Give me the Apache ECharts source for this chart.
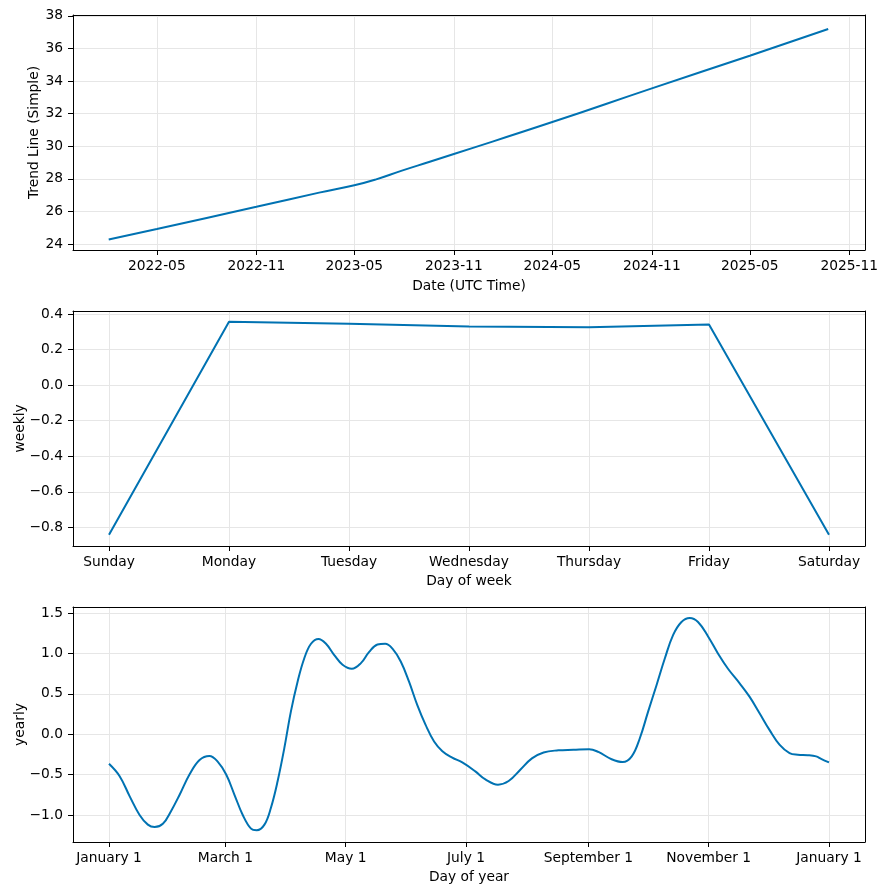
<!DOCTYPE html>
<html>
<head>
<meta charset="utf-8">
<script src="https://cdn.jsdelivr.net/npm/echarts@6/dist/echarts.min.js"></script>
<style>
  html, body { margin: 0; padding: 0; background: #fff; }
  #chart { width: 888px; height: 895px; }
</style>
</head>
<body>
<div id="chart"></div>
<script>
// trend component
var trendDates = ['2022-02-01', '2022-05-01', '2022-11-01', '2023-02-25', '2023-05-01', '2023-06-09',
                  '2023-07-28', '2023-09-16', '2023-11-01', '2024-05-01', '2024-11-01', '2025-05-01',
                  '2025-09-23'];
var trendValues = [24.28, 24.92, 26.28, 27.15, 27.60, 27.95, 28.50, 29.03, 29.52, 31.48, 33.55, 35.55, 37.19];
// uncertainty band at the end of the trend
var bandDates = ['2024-12-01', '2025-03-01', '2025-05-01', '2025-07-01', '2025-09-23'];
var bandLower = [33.88, 34.85, 35.50, 36.14, 37.01];
var bandUpper = [33.88, 34.89, 35.60, 36.32, 37.37];
var trendTickDates = ['2022-05-01', '2022-11-01', '2023-05-01', '2023-11-01', '2024-05-01',
                      '2024-11-01', '2025-05-01', '2025-11-01'];
var trendTickValues = [24, 26, 28, 30, 32, 34, 36, 38];

// weekly component
var weekDays = ['Sunday', 'Monday', 'Tuesday', 'Wednesday', 'Thursday', 'Friday', 'Saturday'];
var weeklyValues = [-0.842, 0.356, 0.345, 0.330, 0.326, 0.341, -0.842];
var weeklyTickValues = [-0.8, -0.6, -0.4, -0.2, 0, 0.2, 0.4];

// yearly component (day of year, 0 = January 1)
var yearDays = [0, 5.4, 10.5, 15.5, 19.7, 23.1, 27.3, 31.5, 35.8, 40.8, 45.9, 50.9, 55.1, 59.4,
                63.6, 67.8, 72, 74.9, 78.8, 82.1, 85.5, 88.9, 92.2, 95.6, 99, 102.4, 106.2, 110,
                114.2, 118.4, 123.1, 127.7, 131.9, 136.1, 140, 143.7, 147.9, 152.1, 156.3, 160.5,
                164.8, 169, 174, 179.1, 185.7, 190.8, 197.2, 202.6, 208.5, 214.4, 220.3, 227.8,
                235.4, 243.4, 248.1, 254.8, 260.4, 265, 269.1, 273.3, 277.6, 281.8, 286, 290.2,
                294.4, 298.6, 303.7, 308.7, 313.8, 319.7, 324.7, 329.8, 334.9, 339.9, 345, 349.2,
                354.2, 358.5, 361, 365];
var yearlyValues = [-0.366, -0.52, -0.77, -1.00, -1.12, -1.15, -1.11, -0.95, -0.75, -0.50, -0.32,
                    -0.27, -0.34, -0.50, -0.75, -1.00, -1.17, -1.19, -1.12, -0.91, -0.58, -0.17,
                    0.28, 0.65, 0.94, 1.12, 1.18, 1.12, 0.98, 0.86, 0.81, 0.88, 1.02, 1.11, 1.12,
                    1.06, 0.90, 0.65, 0.36, 0.115, -0.09, -0.21, -0.29, -0.35, -0.46, -0.56, -0.625,
                    -0.58, -0.44, -0.30, -0.226, -0.20, -0.193, -0.185, -0.22, -0.31, -0.345, -0.275,
                    -0.05, 0.28, 0.61, 0.94, 1.23, 1.39, 1.44, 1.39, 1.21, 1.00, 0.81, 0.63, 0.465,
                    0.26, 0.05, -0.13, -0.235, -0.255, -0.26, -0.275, -0.305, -0.35];
var yearTickDays = [0, 59, 120, 181, 243, 304, 365];
var yearTickNames = ['January 1', 'March 1', 'May 1', 'July 1', 'September 1', 'November 1', 'January 1'];
var yearlyTickValues = [-1, -0.5, 0, 0.5, 1, 1.5];

var LINE = '#0072B2';
var FONT = 'DejaVu Sans';
var FS = 13.8;

function toTime(s) {
    return Date.parse(s + 'T00:00:00Z');
}
function minus(s) {
    return s.replace('-', '\u2212');
}
function pad2(n) {
    return n < 10 ? '0' + n : '' + n;
}

function makeAxis(opt) {
    return {
        type: 'value',
        gridIndex: opt.grid,
        min: opt.min,
        max: opt.max,
        name: opt.name,
        nameLocation: 'middle',
        nameGap: opt.nameGap,
        nameMoveOverlap: false,
        nameTextStyle: {color: '#000', fontSize: FS, fontFamily: FONT},
        axisLine: {show: true, onZero: false, lineStyle: {color: '#000', width: 1}},
        axisTick: {show: true, inside: false, length: 5, customValues: opt.ticks, lineStyle: {color: '#000', width: 1}},
        axisLabel: {
            customValues: opt.ticks,
            formatter: opt.formatter,
            color: '#000',
            fontSize: FS,
            fontFamily: FONT,
            margin: opt.margin
        },
        splitLine: {show: true, lineStyle: {color: '#e6e6e6', width: 1}}
    };
}

// top / right frame lines of each panel
function frameAxis(grid, pos) {
    return {
        type: 'value', gridIndex: grid, position: pos, min: 0, max: 1,
        axisLine: {show: true, onZero: false, lineStyle: {color: '#000', width: 1}},
        axisTick: {show: false},
        axisLabel: {show: false},
        splitLine: {show: false}
    };
}

var trendData = trendDates.map(function (d, i) { return [toTime(d), trendValues[i]]; });
var bandLowData = bandDates.map(function (d, i) { return [toTime(d), bandLower[i]]; });
var bandWidthData = bandDates.map(function (d, i) { return [toTime(d), bandUpper[i] - bandLower[i]]; });
var weeklyData = weeklyValues.map(function (v, i) { return [i, v]; });
var yearlyData = yearDays.map(function (d, i) { return [d, yearlyValues[i]]; });

var chart = echarts.init(document.getElementById('chart'));
chart.setOption({
    animation: false,
    backgroundColor: '#fff',
    grid: [
        {left: 73, right: 23, top: 15, height: 235, containLabel: false, outerBoundsMode: 'none'},
        {left: 73, right: 23, top: 311, height: 235, containLabel: false, outerBoundsMode: 'none'},
        {left: 73, right: 23, top: 607, height: 235, containLabel: false, outerBoundsMode: 'none'}
    ],
    xAxis: [
        makeAxis({
            grid: 0, min: toTime('2021-11-27'), max: toTime('2025-11-30'),
            name: 'Date (UTC Time)', nameGap: 29, margin: 9,
            ticks: trendTickDates.map(toTime),
            formatter: function (v) {
                var d = new Date(v);
                return d.getUTCFullYear() + '-' + pad2(d.getUTCMonth() + 1);
            }
        }),
        makeAxis({
            grid: 1, min: -0.3, max: 6.3,
            name: 'Day of week', nameGap: 28, margin: 9,
            ticks: [0, 1, 2, 3, 4, 5, 6],
            formatter: function (v) { return weekDays[Math.round(v)]; }
        }),
        makeAxis({
            grid: 2, min: -18.25, max: 383.25,
            name: 'Day of year', nameGap: 28, margin: 9,
            ticks: yearTickDays,
            formatter: function (v) { return yearTickNames[yearTickDays.indexOf(v)]; }
        }),
        frameAxis(0, 'top'),
        frameAxis(1, 'top'),
        frameAxis(2, 'top')
    ],
    yAxis: [
        makeAxis({
            grid: 0, min: 23.63, max: 38.05,
            name: 'Trend Line (Simple)', nameGap: 32, margin: 10,
            ticks: trendTickValues,
            formatter: function (v) { return String(Math.round(v)); }
        }),
        makeAxis({
            grid: 1, min: -0.905, max: 0.417,
            name: 'weekly', nameGap: 46, margin: 10,
            ticks: weeklyTickValues,
            formatter: function (v) { return minus(v.toFixed(1)); }
        }),
        makeAxis({
            grid: 2, min: -1.335, max: 1.575,
            name: 'yearly', nameGap: 46, margin: 10,
            ticks: yearlyTickValues,
            formatter: function (v) { return minus(v.toFixed(1)); }
        }),
        frameAxis(0, 'right'),
        frameAxis(1, 'right'),
        frameAxis(2, 'right')
    ],
    series: [
        {
            name: 'trend', type: 'line', xAxisIndex: 0, yAxisIndex: 0,
            data: trendData, showSymbol: false, smooth: 0.5,
            lineStyle: {color: LINE, width: 2}
        },
        {
            name: 'band_low', type: 'line', xAxisIndex: 0, yAxisIndex: 0, stack: 'band',
            data: bandLowData, showSymbol: false,
            lineStyle: {opacity: 0}
        },
        {
            name: 'band', type: 'line', xAxisIndex: 0, yAxisIndex: 0, stack: 'band',
            data: bandWidthData, showSymbol: false,
            lineStyle: {opacity: 0},
            areaStyle: {color: LINE, opacity: 0.2}
        },
        {
            name: 'weekly', type: 'line', xAxisIndex: 1, yAxisIndex: 1,
            data: weeklyData, showSymbol: false,
            lineStyle: {color: LINE, width: 2}
        },
        {
            name: 'yearly', type: 'line', xAxisIndex: 2, yAxisIndex: 2,
            data: yearlyData, showSymbol: false, smooth: 0.4,
            lineStyle: {color: LINE, width: 2}
        }
    ]
});
</script>
</body>
</html>
